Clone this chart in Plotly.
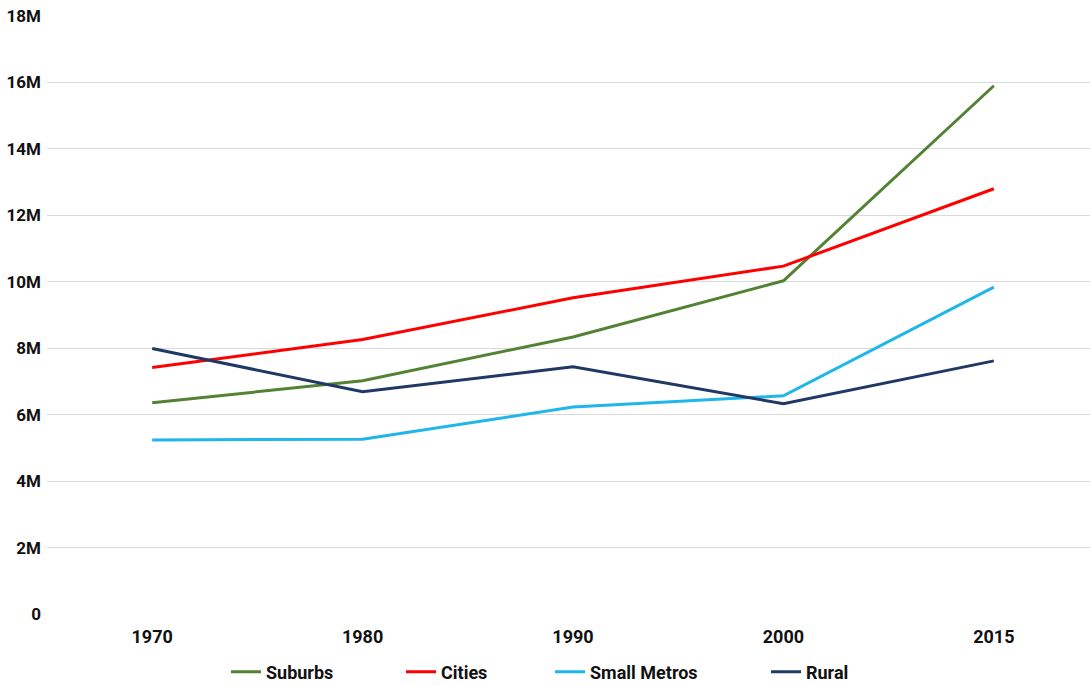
import plotly.graph_objects as go

years = ["1970", "1980", "1990", "2000", "2015"]
suburbs = [6.36e6, 7.02e6, 8.34e6, 10.03e6, 15.9e6]
cities = [7.42e6, 8.26e6, 9.52e6, 10.47e6, 12.8e6]
small_metros = [5.24e6, 5.26e6, 6.23e6, 6.57e6, 9.84e6]
rural = [7.99e6, 6.69e6, 7.44e6, 6.33e6, 7.62e6]

y_ticks = [0, 2e6, 4e6, 6e6, 8e6, 10e6, 12e6, 14e6, 16e6, 18e6]
y_labels = ["0", "2M", "4M", "6M", "8M", "10M", "12M", "14M", "16M", "18M"]

series = [
    ("Suburbs", suburbs, "#548235"),
    ("Cities", cities, "#FF0000"),
    ("Small Metros", small_metros, "#1FB6EA"),
    ("Rural", rural, "#203864"),
]
legend_ids = ["legend", "legend2", "legend3", "legend4"]
legend_x_px = [232, 407, 556, 772]  # left edge of legend line in pixels

FAM = "Roboto, Arial, sans-serif"
fig = go.Figure()
for (name, vals, color), lid in zip(series, legend_ids):
    fig.add_trace(go.Scatter(x=years, y=vals, name=name, mode="lines",
                             line=dict(color=color, width=3), legend=lid))

W, H = 1090, 686
legend_font = dict(family=FAM, size=18, color="#111111", weight="bold")
leg_layout = {}
for lid, px in zip(legend_ids, legend_x_px):
    leg_layout[lid] = dict(orientation="h", xref="container", yref="container",
                           x=(px - 6) / W, xanchor="left",
                           y=1 - 672 / H, yanchor="middle", font=legend_font,
                           bgcolor="rgba(0,0,0,0)")

fig.update_layout(
    width=W, height=H,
    margin=dict(l=47, r=0, t=16, b=72),
    paper_bgcolor="white", plot_bgcolor="white",
    font=dict(family=FAM, size=18, color="#111111"),
    showlegend=True,
    xaxis=dict(type="category", range=[-0.5, 4.457], showgrid=False, zeroline=False,
               showline=False, ticks="", ticklabelstandoff=10, automargin=False,
               tickfont=dict(size=18, weight="bold")),
    yaxis=dict(range=[0, 18e6], tickvals=y_ticks, ticktext=y_labels, showgrid=True,
               gridcolor="#D9D9D9", gridwidth=1, zeroline=False, showline=False,
               ticks="", ticklabelstandoff=5, automargin=False,
               tickfont=dict(size=17, weight="bold")),
    **leg_layout,
)
fig.write_html("out.html")
